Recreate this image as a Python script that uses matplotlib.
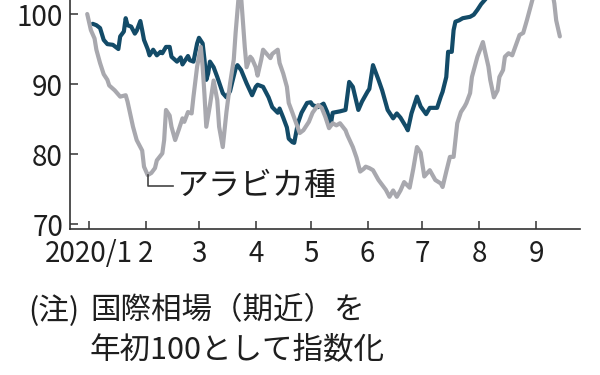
import matplotlib
matplotlib.use("Agg")
import matplotlib.pyplot as plt
import pandas as pd
import numpy as np

plt.rcParams['font.family'] = ['Noto Sans CJK JP', 'DejaVu Sans']

# ロブスタ種 (dark line) – index, 2020 start = 100
robusta_dates = [
    "01-03", "01-05", "01-07", "01-09", "01-11", "01-14", "01-17", "01-18", "01-20", "01-21",
    "01-22", "01-24", "01-26", "01-27", "01-29", "01-30", "01-31", "02-02", "02-03", "02-05",
    "02-07", "02-09", "02-10", "02-12", "02-14", "02-15", "02-18", "02-20", "02-21", "02-24",
    "02-25", "02-27", "02-29", "03-01", "03-03", "03-04", "03-05", "03-06", "03-07", "03-09",
    "03-11", "03-14", "03-16", "03-18", "03-19", "03-21", "03-22", "03-24", "03-27", "03-30",
    "04-01", "04-02", "04-05", "04-08", "04-10", "04-13", "04-14", "04-16", "04-18", "04-19",
    "04-21", "04-22", "04-24", "04-26", "04-29", "05-01", "05-02", "05-05", "05-08", "05-10",
    "05-12", "05-13", "05-17", "05-20", "05-22", "05-24", "05-27", "05-29", "06-01", "06-02",
    "06-04", "06-06", "06-07", "06-09", "06-12", "06-15", "06-17", "06-19", "06-22", "06-23",
    "06-25", "06-28", "06-30", "07-03", "07-05", "07-09", "07-11", "07-12", "07-14", "07-15",
    "07-17", "07-18", "07-19", "07-21", "07-23", "07-27", "07-29", "07-31", "08-02", "08-05",
    "08-09", "08-23", "09-06", "09-14",
]
robusta_values = [
    98.6, 98.4, 98.0, 96.3, 95.7, 95.6, 95.0, 96.8, 97.5, 99.4,
    98.4, 98.2, 97.2, 97.6, 99.0, 97.7, 96.3, 95.0, 94.1, 94.9,
    94.1, 94.6, 94.4, 95.3, 95.3, 93.9, 93.2, 93.8, 92.8, 94.0,
    93.4, 93.2, 95.8, 96.6, 95.8, 93.5, 90.6, 91.5, 93.2, 92.4,
    91.0, 88.7, 88.1, 89.0, 90.1, 92.2, 92.7, 92.0, 90.1, 88.4,
    89.6, 89.9, 89.6, 88.1, 86.7, 85.9, 86.5, 85.2, 83.8, 82.2,
    81.7, 81.6, 84.4, 85.9, 87.3, 87.4, 87.0, 86.7, 87.2, 86.0,
    84.3, 85.9, 86.1, 86.3, 90.3, 89.6, 86.3, 87.5, 88.9, 89.3,
    92.7, 91.3, 90.6, 89.1, 86.3, 85.1, 85.8, 85.2, 83.9, 83.4,
    85.8, 88.2, 86.8, 85.7, 86.6, 86.6, 88.2, 88.9, 91.0, 94.6,
    94.6, 97.7, 98.9, 99.1, 99.4, 99.6, 99.9, 100.6, 101.4, 102.3,
    104.0, 106.0, 107.0, 106.0,
]

# アラビカ種 (grey line)
arabica_dates = [
    "12-31", "01-02", "01-04", "01-05", "01-07", "01-09", "01-11", "01-12", "01-15", "01-18",
    "01-21", "01-22", "01-23", "01-25", "01-27", "01-29", "01-30", "01-31", "02-02", "02-04",
    "02-06", "02-07", "02-10", "02-11", "02-12", "02-14", "02-15", "02-17", "02-19", "02-21",
    "02-22", "02-24", "02-26", "02-27", "02-29", "03-02", "03-03", "03-04", "03-05", "03-07",
    "03-09", "03-11", "03-12", "03-14", "03-16", "03-18", "03-20", "03-21", "03-22", "03-23",
    "03-24", "03-26", "03-27", "03-29", "03-30", "04-01", "04-02", "04-04", "04-05", "04-07",
    "04-09", "04-10", "04-13", "04-14", "04-16", "04-18", "04-19", "04-21", "04-24", "04-25",
    "04-27", "04-30", "05-02", "05-05", "05-07", "05-09", "05-11", "05-13", "05-15", "05-17",
    "05-20", "05-21", "05-24", "05-26", "05-28", "05-30", "05-31", "06-02", "06-04", "06-07",
    "06-11", "06-13", "06-15", "06-17", "06-19", "06-21", "06-24", "06-26", "06-28", "06-30",
    "07-02", "07-05", "07-08", "07-11", "07-12", "07-14", "07-16", "07-18", "07-20", "07-22",
    "07-24", "07-25", "07-27", "07-28", "07-31", "08-03", "08-04", "08-06", "08-07", "08-09",
    "08-11", "08-12", "08-14", "08-15", "08-17", "08-19", "08-22", "08-23", "08-25", "08-27",
    "08-29", "08-31", "09-03", "09-07", "09-10", "09-11", "09-12", "09-14",
]
arabica_values = [
    100.0, 97.7, 96.5, 94.9, 93.0, 91.4, 90.6, 89.8, 89.1, 88.2,
    88.4, 87.5, 86.3, 83.9, 82.0, 81.0, 80.5, 78.2, 77.0, 77.3,
    78.0, 79.1, 80.1, 82.0, 86.3, 85.5, 83.9, 82.0, 83.5, 85.1,
    84.6, 86.0, 85.8, 88.2, 92.5, 95.3, 92.5, 88.5, 83.9, 87.0,
    90.5, 87.7, 83.9, 81.0, 86.0, 90.1, 93.5, 97.3, 100.5, 103.5,
    102.5, 95.3, 92.4, 93.9, 93.6, 92.4, 91.2, 93.5, 94.9, 94.3,
    93.7, 94.3, 94.9, 93.0, 91.5, 89.6, 87.3, 85.9, 83.7, 83.0,
    83.4, 84.6, 85.9, 87.0, 86.6, 85.3, 83.7, 84.4, 84.1, 84.4,
    83.4, 82.7, 81.0, 79.5, 77.5, 77.9, 78.2, 78.0, 77.7, 76.3,
    74.9, 73.9, 74.8, 73.9, 74.8, 76.0, 75.2, 77.9, 81.0, 80.2,
    76.8, 77.7, 76.3, 75.8, 75.3, 77.5, 79.6, 79.6, 84.4, 86.0,
    86.8, 87.3, 88.7, 91.0, 93.9, 96.0, 94.8, 92.5, 90.6, 88.1,
    89.1, 91.0, 92.0, 93.9, 94.4, 94.1, 96.3, 97.0, 97.3, 99.1,
    101.0, 103.0, 104.0, 104.5, 103.0, 101.5, 99.1, 96.8,
]

month_ticks = ["2020-01-01", "2020-02-01", "2020-03-01", "2020-04-01", "2020-05-01",
               "2020-06-01", "2020-07-01", "2020-08-01", "2020-09-01"]
month_labels = ["2020/1", "2", "3", "4", "5", "6", "7", "8", "9"]
y_ticks = [70, 80, 90, 100]
arabica_label = "アラビカ種"
note_head = "(注)"
note_line1 = "国際相場（期近）を"
note_line2 = "年初100として指数化"


def to_dates(md):
    return pd.to_datetime([("2019-" if m.startswith("12") else "2020-") + m for m in md])


rob_d = to_dates(robusta_dates)
ara_d = to_dates(arabica_dates)

W, H = 600, 375
fig = plt.figure(figsize=(W / 100, H / 100), dpi=100)
fig.patch.set_facecolor("white")
ax = fig.add_axes([70 / W, 1 - 229 / H, 510 / W, 229 / H])

dark = "#134b68"
grey = "#a8a8ae"
axis_col = "#333333"
text_col = "#1e1e1e"

ax.plot(rob_d, robusta_values, color=dark, lw=3.0, solid_joinstyle="round",
        solid_capstyle="round", zorder=2)
ax.plot(ara_d, arabica_values, color=grey, lw=3.0, solid_joinstyle="round",
        solid_capstyle="round", zorder=3)

t0 = pd.Timestamp("2020-01-01")
ax.set_xlim(t0 - pd.Timedelta(days=10.4), t0 + pd.Timedelta(days=268))
ax.set_ylim(69.3, 102)

for s in ("top", "right"):
    ax.spines[s].set_visible(False)
for s in ("left", "bottom"):
    ax.spines[s].set_color(axis_col)
    ax.spines[s].set_linewidth(1.2)

ax.set_yticks(y_ticks)
ax.set_yticklabels([str(v) for v in y_ticks])
ax.set_xticks(pd.to_datetime(month_ticks))
ax.set_xticklabels(month_labels)
ax.tick_params(axis="both", direction="in", length=6, width=1.1, color=axis_col,
               labelsize=20, labelcolor=text_col)
ax.tick_params(axis="y", pad=5)
ax.tick_params(axis="x", pad=7)

# leader line to the early-year arabica low
early = ara_d < pd.Timestamp("2020-03-01")
early_vals = np.array(arabica_values)[early]
imin = int(np.argmin(early_vals))
x0 = ara_d[early][imin]
y0 = early_vals[imin]
ax.plot([x0, x0, x0 + pd.Timedelta(days=14)], [y0, 75.4, 75.4],
        color="#444444", lw=1.2, zorder=4)
ax.text(x0 + pd.Timedelta(days=15.5), 75.4, arabica_label, fontsize=23,
        color=text_col, ha="left", va="center")

fig.text(28 / W, 1 - 311 / H, note_head, fontsize=22, color=text_col, ha="left", va="center")
fig.text(90 / W, 1 - 311 / H, note_line1, fontsize=22, color=text_col, ha="left", va="center")
fig.text(90 / W, 1 - 350 / H, note_line2, fontsize=22, color=text_col, ha="left", va="center")

fig.savefig("out.png", dpi=100, facecolor="white")
